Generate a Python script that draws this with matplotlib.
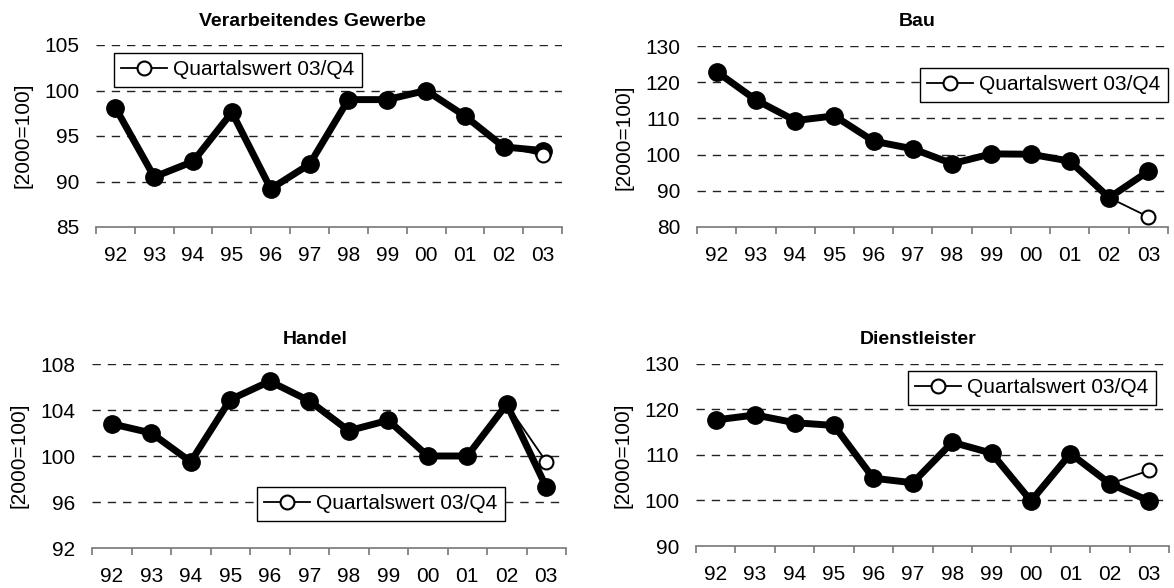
import numpy as np
import matplotlib
matplotlib.use('Agg')
import matplotlib.pyplot as plt

plt.rcParams['font.family'] = ['Liberation Sans', 'DejaVu Sans']

# Jahre (Kategorien der x-Achse)
years = ['92', '93', '94', '95', '96', '97', '98', '99', '00', '01', '02', '03']

# Jahreswerte je Branche [2000=100]
gewerbe = [98.1, 90.5, 92.2, 97.6, 89.2, 91.9, 99.0, 99.0, 100.0, 97.2, 93.8, 93.4]
bau = [122.9, 115.1, 109.4, 110.7, 103.7, 101.6, 97.5, 100.2, 100.1, 98.2, 88.1, 95.4]
handel = [102.8, 102.0, 99.5, 104.9, 106.5, 104.8, 102.2, 103.1, 100.0, 100.0, 104.5, 97.3]
dienst = [117.7, 118.8, 117.1, 116.5, 104.9, 103.9, 112.8, 110.4, 99.9, 110.3, 103.7, 99.9]

# Quartalswert 03/Q4
gewerbe_q4 = 92.9
bau_q4 = 82.8
handel_q4 = 99.5
dienst_q4 = 106.6

titles = ['Verarbeitendes Gewerbe', 'Bau', 'Handel', 'Dienstleister']
y_ticks = [[85, 90, 95, 100, 105],
           [80, 90, 100, 110, 120, 130],
           [92, 96, 100, 104, 108],
           [90, 100, 110, 120, 130]]

W, H = 1174, 588
# Plotflaechen in Pixeln: links, rechts, oben, unten
boxes = [(96, 562, 45, 227), (697, 1168, 46, 227),
         (92, 566, 364, 548), (696, 1169, 364, 546)]
# Legenden: links, oben (Pixel)
legend_pos = [(114, 53), (920, 68), (257, 487), (908, 371)]
# Titel und y-Beschriftung (Pixel)
title_pos = [(312, 22), (917, 22), (315, 340), (918, 340)]
ylabel_pos = [(23, 135), (624, 137), (19, 455), (623, 455)]

fig = plt.figure(figsize=(W / 100, H / 100), dpi=100)


def draw_panel(i, values, q4):
    left, right, top, bottom = boxes[i]
    ax = fig.add_axes([left / W, 1 - bottom / H, (right - left) / W, (bottom - top) / H])
    x = np.arange(len(years))
    ticks = y_ticks[i]

    # Gitterlinien (gestrichelt), unterste Linie ist die Achse
    for t in ticks[1:]:
        ax.axhline(t, color='#222222', lw=1.0, ls=(0, (6, 5)), zorder=1)

    ax.plot(x, values, color='black', lw=5, marker='o', ms=12.5,
            solid_joinstyle='round', zorder=3)

    q4_line = [np.nan] * (len(years) - 2) + [values[-2], q4]
    ax.plot(x, q4_line, color='black', lw=1.3, marker='o', ms=10,
            markerfacecolor='white', markeredgewidth=1.5, markevery=[len(years) - 1],
            zorder=4, label='Quartalswert 03/Q4')

    ax.set_xlim(-0.5, len(years) - 0.5)
    ax.set_ylim(ticks[0], ticks[-1])
    ax.set_yticks(ticks)
    ax.tick_params(axis='y', length=0, pad=12, labelsize=15)

    ax.set_xticks(np.arange(-0.5, len(years), 1.0))
    ax.set_xticklabels([])
    ax.set_xticks(x, minor=True)
    ax.set_xticklabels(years, minor=True)
    ax.tick_params(axis='x', which='major', length=5, width=1.2, color='#777777', direction='out')
    ax.tick_params(axis='x', which='minor', length=0, pad=14, labelsize=15)

    for side in ['top', 'right', 'left']:
        ax.spines[side].set_visible(False)
    ax.spines['bottom'].set_color('#777777')
    ax.spines['bottom'].set_linewidth(1.2)
    ax.spines['bottom'].set_zorder(5)
    ax.set_facecolor('none')

    lx, ly = legend_pos[i]
    leg = ax.legend(loc='upper left', bbox_to_anchor=(lx / W, 1 - ly / H),
                    bbox_transform=fig.transFigure, borderaxespad=0, fontsize=15,
                    handlelength=2.2, handletextpad=0.3, borderpad=0.35,
                    fancybox=False, framealpha=1, edgecolor='black')
    leg.get_frame().set_linewidth(1.0)

    tx, ty = title_pos[i]
    fig.text(tx / W, 1 - ty / H, titles[i], ha='center', va='center',
             fontsize=14, fontweight='bold')
    yx, yy = ylabel_pos[i]
    fig.text(yx / W, 1 - yy / H, '[2000=100]', ha='center', va='center',
             rotation=90, fontsize=15)


draw_panel(0, gewerbe, gewerbe_q4)
draw_panel(1, bau, bau_q4)
draw_panel(2, handel, handel_q4)
draw_panel(3, dienst, dienst_q4)

fig.savefig('out.png', dpi=100)
